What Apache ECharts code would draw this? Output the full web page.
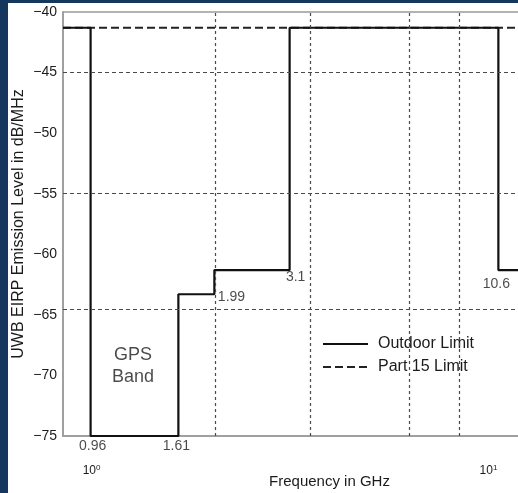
<!DOCTYPE html>
<html>
<head>
<meta charset="utf-8">
<script src="https://cdn.jsdelivr.net/npm/echarts@6/dist/echarts.min.js"></script>
<style>
  html, body { margin: 0; padding: 0; width: 518px; height: 493px; background: #15365d; overflow: hidden; }
  #chart { position: absolute; left: 8px; top: 3px; width: 510px; height: 490px; background: #fff; }
</style>
</head>
<body>
<div id="chart"></div>
<script>
// Band edges (GHz) and the outdoor UWB EIRP limit inside each band (dB/MHz)
const bandEdges = [0.816, 0.96, 1.61, 1.99, 3.1, 10.6, 12.04];
const outdoorLevels = [-41.3, -75, -63.3, -61.3, -41.3, -61.3];

// Part 15 general limit
const part15Freq = [0.816, 12.04];
const part15Level = [-41.3, -41.3];

// Labelled band-edge corners
const edgeFreq = [0.96, 1.61, 1.99, 3.1, 10.6];
const edgeLevel = [-75, -75, -63.3, -61.3, -61.3];
const edgeText = ['0.96', '1.61', '1.99', '3.1', '10.6'];

// Axis ranges and ticks
const freqRange = [0.816, 12.04];
const levelRange = [-75, -40];
const levelStep = 5;
const freqDecades = [1, 10];

// Dashed reference grid
const gridFreqs = [2, 3.51, 6.27, 8.41];
const gridLevels = [-45, -55, -64.5];

// GPS band note
const gpsNoteFreq = 1.232;
const gpsNoteLevel = -69.2;
const gpsNoteText = 'GPS\nBand';

const seriesNames = ['Outdoor Limit', 'Part 15 Limit'];

const FONT = "'Liberation Sans', Arial, Helvetica, sans-serif";
const INK = '#1b1b1b';

// label placement for each band-edge value
const edgePlacement = [
  { position: 'bottom', distance: 3, offset: [2, 0] },
  { position: 'bottom', distance: 3, offset: [-2, 0] },
  { position: 'right', distance: 3, offset: [0, 3] },
  { position: 'bottom', distance: 0, offset: [6, 0] },
  { position: 'bottom', distance: 7, offset: [-2, 0] }
];

const outdoorData = bandEdges.map((f, i) => [f, outdoorLevels[Math.min(i, outdoorLevels.length - 1)]]);
const part15Data = part15Freq.map((f, i) => [f, part15Level[i]]);

const chart = echarts.init(document.getElementById('chart'), null, { renderer: 'canvas' });

chart.setOption({
  animation: false,
  backgroundColor: '#fff',
  textStyle: { fontFamily: FONT, color: INK },
  grid: {
    left: 55, top: 9, right: -2, bottom: 57,
    outerBoundsMode: 'none',
    containLabel: false,
    show: true, borderColor: '#9a9a9a', borderWidth: 1.5, backgroundColor: 'transparent'
  },
  legend: {
    orient: 'vertical',
    left: 309, top: 328,
    itemWidth: 45, itemHeight: 14, itemGap: 7,
    data: seriesNames,
    itemStyle: { opacity: 0, borderWidth: 0 },
    textStyle: { fontFamily: FONT, fontSize: 16, color: INK, lineHeight: 16, padding: [0, 0, 0, 5] }
  },
  xAxis: {
    type: 'log',
    logBase: 10,
    min: freqRange[0],
    max: freqRange[1],
    axisLine: { show: true, lineStyle: { color: '#9a9a9a', width: 1.5 } },
    axisTick: { show: false },
    splitLine: { show: false },
    axisLabel: {
      margin: 28,
      showMinLabel: true,
      showMaxLabel: true,
      formatter: function (v) {
        const e = Math.log10(v);
        const r = Math.round(e);
        if (Math.abs(e - r) > 1e-6) return '';
        if (freqDecades.indexOf(Math.pow(10, r)) < 0) return '';
        return (r === 0 ? '{b0|10}' : '{b|10}') + '{s|' + r + '}' + (r === 0 ? '{p|}' : '');
      },
      rich: {
        b: { fontFamily: FONT, fontSize: 12, color: INK },
        b0: { fontFamily: FONT, fontSize: 12, color: INK },
        s: { fontFamily: FONT, fontSize: 8, color: INK, padding: [0, 0, 6, 0] },
        p: { width: 12 }
      }
    },
    name: 'Frequency in GHz',
    nameLocation: 'middle',
    nameGap: 38,
    nameMoveOverlap: false,
    nameTextStyle: { fontFamily: FONT, fontSize: 15, color: INK, padding: [0, 0, 0, 76] }
  },
  yAxis: {
    type: 'value',
    min: levelRange[0],
    max: levelRange[1],
    interval: levelStep,
    axisLine: { show: true, lineStyle: { color: '#9a9a9a', width: 1.5 } },
    axisTick: { show: false },
    splitLine: { show: false },
    axisLabel: {
      margin: 6,
      fontFamily: FONT,
      fontSize: 14,
      color: INK,
      formatter: v => String(v).replace('-', '\u2212')
    },
    name: 'UWB EIRP Emission Level in dB/MHz',
    nameLocation: 'middle',
    nameGap: 36,
    nameMoveOverlap: false,
    nameTextStyle: { fontFamily: FONT, fontSize: 16, color: INK }
  },
  series: [
    {
      // reference grid, vertical
      type: 'line',
      data: [],
      silent: true,
      z: 1,
      markLine: {
        silent: true,
        symbol: 'none',
        label: { show: false },
        lineStyle: { color: '#4a4a4a', width: 1.2, type: [3, 3] },
        data: gridFreqs.map(f => ({ xAxis: f }))
      }
    },
    {
      // reference grid, horizontal
      type: 'line',
      data: [],
      silent: true,
      z: 1,
      markLine: {
        silent: true,
        symbol: 'none',
        label: { show: false },
        lineStyle: { color: '#4a4a4a', width: 1.2, type: [4, 3] },
        data: gridLevels.map(v => ({ yAxis: v }))
      }
    },
    {
      name: seriesNames[1],
      type: 'line',
      data: part15Data,
      symbol: 'none',
      z: 3,
      lineStyle: { color: '#222', width: 2, type: [8, 4] },
      itemStyle: { color: '#222' }
    },
    {
      name: seriesNames[0],
      type: 'line',
      data: outdoorData,
      step: 'end',
      symbol: 'none',
      z: 4,
      lineStyle: { color: '#111', width: 2.2, type: 'solid' },
      itemStyle: { color: '#111' }
    },
    {
      // band-edge frequency labels
      type: 'scatter',
      symbolSize: 1,
      itemStyle: { color: 'rgba(0,0,0,0)' },
      silent: true,
      z: 5,
      data: edgeFreq.map((f, i) => ({
        value: [f, edgeLevel[i]],
        label: Object.assign({
          show: true,
          formatter: edgeText[i],
          fontFamily: FONT,
          fontSize: 14,
          color: INK
        }, edgePlacement[i])
      }))
    },
    {
      // GPS band note
      type: 'scatter',
      symbolSize: 1,
      itemStyle: { color: 'rgba(0,0,0,0)' },
      silent: true,
      z: 5,
      data: [{
        value: [gpsNoteFreq, gpsNoteLevel],
        label: {
          show: true,
          position: 'inside',
          formatter: gpsNoteText,
          fontFamily: FONT,
          fontSize: 18,
          lineHeight: 22,
          align: 'center',
          color: INK
        }
      }]
    }
  ]
});
</script>
</body>
</html>
